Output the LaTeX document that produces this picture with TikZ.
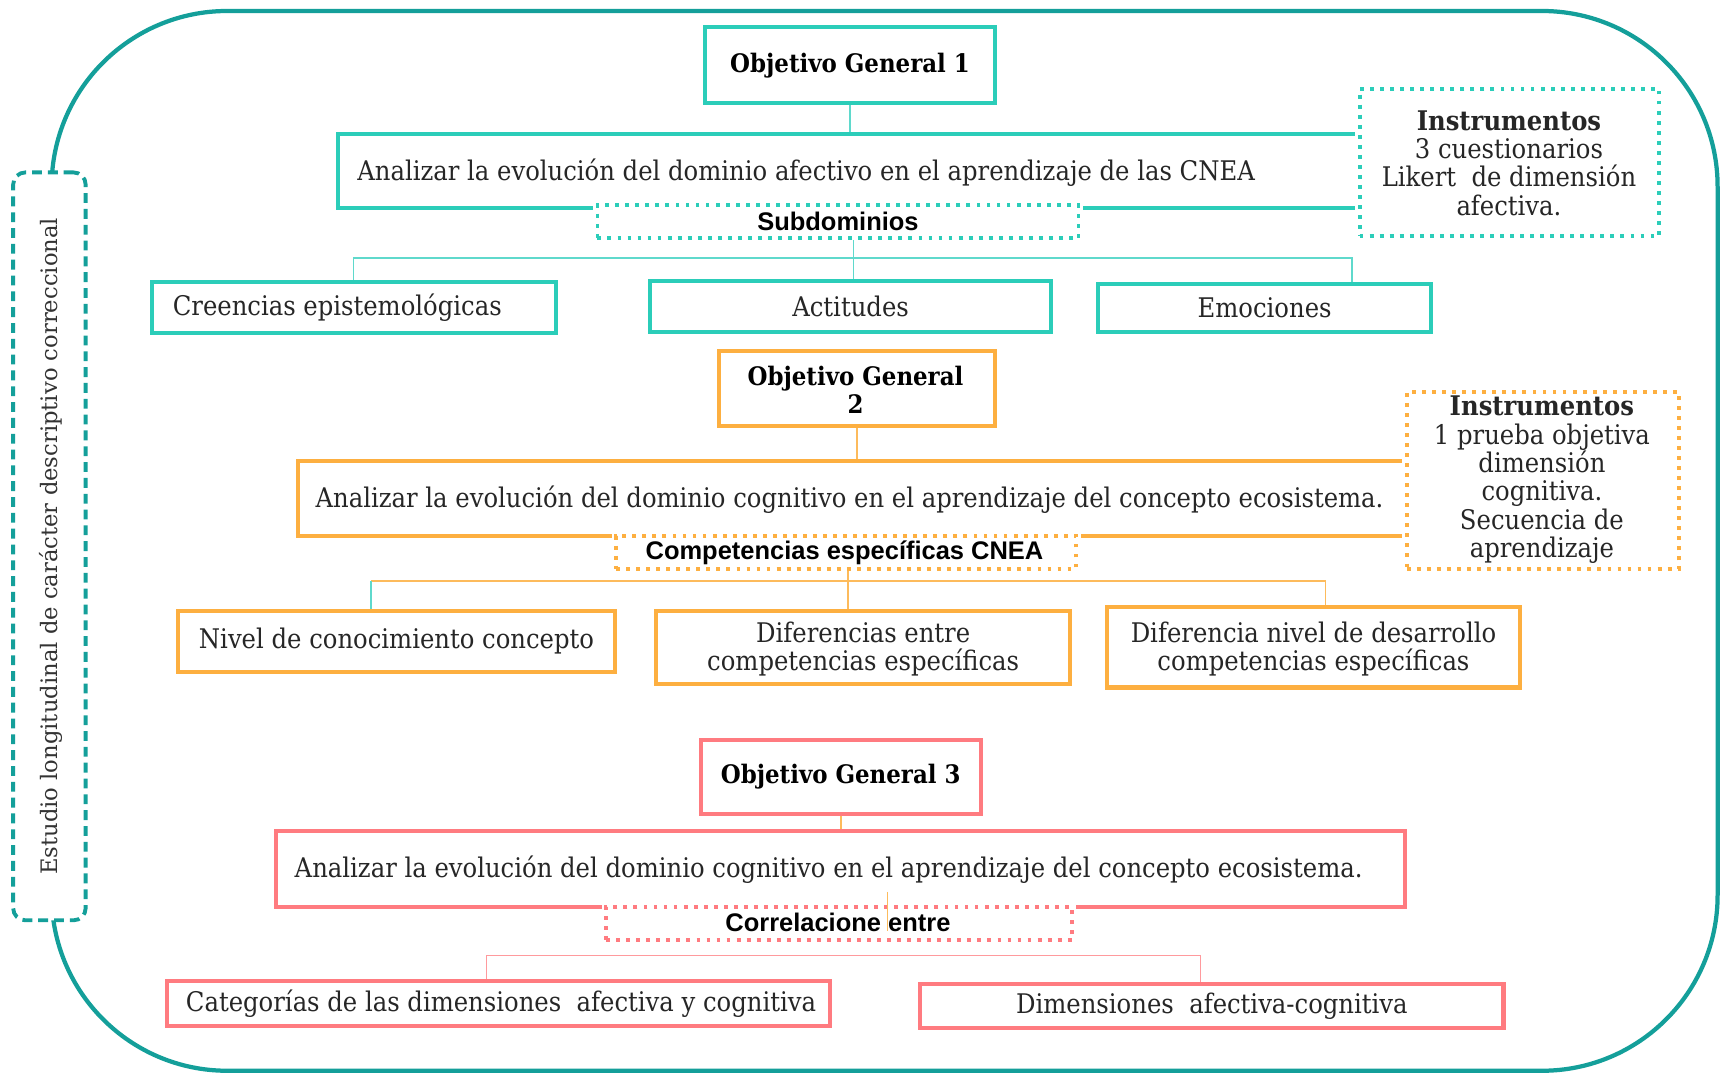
\documentclass[tikz,border=0pt]{standalone}
\usepackage{fontspec}
\setmainfont{DejaVu Serif Condensed}
\newfontfamily\labelsans{Liberation Sans}
\newfontfamily\vertfont{DejaVu Serif}

\definecolor{frameteal}{HTML}{149F9A}
\definecolor{tealbox}{HTML}{2BCDB9}
\definecolor{teallink}{HTML}{5FD9CC}
\definecolor{orangebox}{HTML}{FDAF40}
\definecolor{orangelink}{HTML}{FDBB5C}
\definecolor{rosebox}{HTML}{FF7B80}
\definecolor{roselink}{HTML}{FF9A9D}

\newcommand\pxu{0.02cm}

\tikzset{
  box/.style={draw, line width=2.1pt, fill=white, inner sep=0pt},
  dotbox/.style={draw, fill=white, line width=2pt, line cap=butt,
    dash pattern=on 2pt off 3.2pt,
    preaction={draw=white, solid, line width=4.6pt}, inner sep=0pt},
  txt/.style={font=\fontsize{14}{14.7}\selectfont, inner sep=0pt, text=black!85},
  ttl/.style={font=\fontsize{13.2}{14.7}\selectfont\bfseries, inner sep=0pt, text=black},
  sbold/.style={font=\labelsans\fontsize{13.2}{14}\selectfont\bfseries, inner sep=0pt, text=black},
  vert/.style={font=\vertfont\fontsize{11.75}{13}\selectfont, inner sep=0pt, text=black!80},
  tline/.style={line width=0.85pt},
}

\begin{document}
\begin{tikzpicture}[x=0.02cm, y=-0.02cm]
\useasboundingbox (0,0) rectangle (1568,977);

% outer frame of the study
\draw[frameteal, line width=2.2pt, rounded corners=3.2cm] (47,10) rectangle (1564,975);

% side box with the type of study
\node[draw=frameteal, fill=white, line width=2pt, dash pattern=on 5.1pt off 3.1pt,
      rounded corners=0.22cm, minimum width=66*\pxu, minimum height=681*\pxu] (side) at (45,497.5) {};
\node[vert, rotate=90] (sidet) at (46,497.5) {Estudio longitudinal de carácter descriptivo correccional};

% ---------- Objetivo General 1 ----------
\begin{scope}[every node/.append style={draw=tealbox}]
\node[box, minimum width=264*\pxu, minimum height=69*\pxu] (og1) at (774,59.5) {};
\node[box, minimum width=942*\pxu, minimum height=67*\pxu] (an1) at (779,155.5) {};
\node[dotbox, minimum width=438*\pxu, minimum height=30*\pxu] (sub1) at (763,202) {};
\node[box, minimum width=368*\pxu, minimum height=46*\pxu] (cre) at (322,280) {};
\node[box, minimum width=365*\pxu, minimum height=46*\pxu] (act) at (774.5,279) {};
\node[box, minimum width=303*\pxu, minimum height=43*\pxu] (emo) at (1151.5,280.5) {};
\node[dotbox, minimum width=273*\pxu, minimum height=134*\pxu] (ins1) at (1374.5,148) {};
\end{scope}
\node[ttl] (og1t) at (og1.center) {Objetivo General 1};
\node[txt, anchor=west] (an1t) at (325,157) {Analizar la evolución del dominio afectivo en el aprendizaje de las CNEA};
\node[sbold] (sub1t) at (sub1.center) {Subdominios};
\node[txt, anchor=west] (cret) at (157,280) {Creencias epistemológicas};
\node[txt] (actt) at (act.center) {Actitudes};
\node[txt] (emot) at (emo.center) {Emociones};
\node[txt, align=center] (ins1t) at (1374,148.5) {\textbf{Instrumentos}\\3 cuestionarios\\Likert~ de dimensión\\afectiva.};

\coordinate (k1) at (777,235);
\coordinate (k1r) at (1231,235);
\draw[tline, teallink] (og1.south) -- (og1.south |- an1.north);
\draw[tline, teallink] (k1 |- sub1.south) -- (k1 |- act.north);
\draw[tline, teallink] (cre.north) |- (k1r) -- (k1r |- emo.north);

% ---------- Objetivo General 2 ----------
\begin{scope}[every node/.append style={draw=orangebox}]
\node[box, minimum width=251*\pxu, minimum height=68*\pxu] (og2) at (780.5,354) {};
\node[box, minimum width=1019*\pxu, minimum height=68*\pxu] (an2) at (780.5,454) {};
\node[dotbox, minimum width=419*\pxu, minimum height=30*\pxu] (comp) at (770.5,503) {};
\node[box, minimum width=398*\pxu, minimum height=56*\pxu] (niv) at (361,584) {};
\node[box, minimum width=377*\pxu, minimum height=67*\pxu] (dif) at (785.5,589.5) {};
\node[box, minimum width=376*\pxu, minimum height=73*\pxu] (difn) at (1196,589.5) {};
\node[dotbox, minimum width=248*\pxu, minimum height=161*\pxu] (ins2) at (1405,437.5) {};
\end{scope}
\node[ttl, align=center] (og2t) at (779,355) {Objetivo General\\2};
\node[txt, anchor=west] (an2t) at (287,455) {Analizar la evolución del dominio cognitivo en el aprendizaje del concepto ecosistema.};
\node[sbold] (compt) at (769,503) {Competencias específicas CNEA};
\node[txt] (nivt) at (niv.center) {Nivel de conocimiento concepto};
\node[txt, align=center] (dift) at (786,591) {Diferencias entre\\competencias específicas};
\node[txt, align=center] (difnt) at (1196,591) {Diferencia nivel de desarrollo\\competencias específicas};
\node[txt, align=center] (ins2t) at (1404,437) {\textbf{Instrumentos}\\1 prueba objetiva\\dimensión\\cognitiva.\\Secuencia de\\aprendizaje};

\coordinate (k2) at (772,529);
\coordinate (k2l) at (338,529);
\coordinate (k2r) at (1207,529);
\draw[tline, orangelink] (og2.south) -- (og2.south |- an2.north);
\draw[tline, orangelink] (k2 |- comp.south) -- (k2 |- dif.north);
\draw[tline, orangelink] (k2l) -- (k2r) -- (k2r |- difn.north);
\draw[tline, teallink] (k2l) -- (k2l |- niv.north);

% ---------- Objetivo General 3 ----------
\begin{scope}[every node/.append style={draw=rosebox}]
\node[box, minimum width=255*\pxu, minimum height=67*\pxu] (og3) at (765.5,707.5) {};
\node[box, minimum width=1028*\pxu, minimum height=69*\pxu] (an3) at (765,791.5) {};
\node[dotbox, minimum width=424*\pxu, minimum height=30*\pxu] (cor) at (764,841) {};
\node[box, minimum width=604*\pxu, minimum height=41*\pxu] (cat) at (454,913.5) {};
\node[box, minimum width=531*\pxu, minimum height=40*\pxu] (dim) at (1103.5,916) {};
\end{scope}
\node[ttl] (og3t) at (og3.center) {Objetivo General 3};
\node[txt, anchor=west] (an3t) at (268,792) {Analizar la evolución del dominio cognitivo en el aprendizaje del concepto ecosistema.};
\node[sbold] (cort) at (763,840) {Correlacione entre};
\node[txt, anchor=west] (catt) at (169,914) {Categorías de las dimensiones~ afectiva y cognitiva};
\node[txt] (dimt) at (dim.center) {Dimensiones~ afectiva-cognitiva};

\coordinate (k3l) at (443,870);
\coordinate (k3r) at (1093,870);
\draw[tline, orangelink] (og3.south) -- (og3.south |- an3.north);
\draw[tline, roselink] (k3l |- cat.north) -- (k3l) -- (k3r) -- (k3r |- dim.north);
\coordinate (s1) at (808,812);
\coordinate (s2) at (808,848);
\draw[orangelink, line width=0.6pt] (s1) -- (s2);
\end{tikzpicture}
\end{document}
